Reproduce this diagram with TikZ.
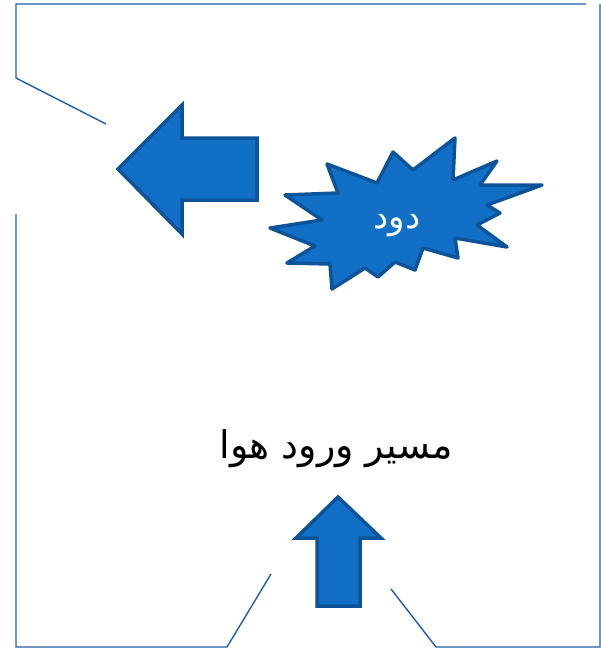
\documentclass[tikz,border=0pt]{standalone}
\usepackage{fontspec}
\newfontfamily\arabicfont[Script=Arabic]{DejaVu Sans}
\TeXXeTstate=1
\usetikzlibrary{positioning}

\definecolor{shapeblue}{HTML}{1170C6}
\definecolor{edgeblue}{HTML}{0C539A}
\definecolor{lineblue}{HTML}{1F5FA8}

\begin{document}
\begin{tikzpicture}[
    x=1pt, y=-1pt,
    frameline/.style={draw=lineblue, line width=1.4pt},
    bigarrow/.style={draw=edgeblue, fill=shapeblue, line width=3.5pt, line join=miter},
    burst/.style={draw=edgeblue, fill=shapeblue, line width=3.5pt, line join=round},
    airtext/.style={font=\arabicfont\fontsize{38}{44}\selectfont, text=black},
    smoketext/.style={font=\arabicfont\fontsize{34}{40}\selectfont, text=white}
]
\useasboundingbox[fill=white] (0,0) rectangle (601,649);

% --- Frame ---
\draw[frameline] (106,124) -- (16,78) -- (16,4) -- (586,4);
\draw[frameline] (16,214) -- (16,647) -- (227,647) -- (271,574);
\draw[frameline] (391,589) -- (436,647) -- (600,647) -- (600,4);

% --- Smoke outlet arrow ---
\draw[bigarrow] (118,169) -- (182,105) -- (182,138) -- (257,138)
    -- (257,200) -- (182,200) -- (182,234) -- cycle;

% --- Smoke burst ---
\draw[burst] (332,289) -- (365,268) -- (378,277) -- (395,262) -- (415,270)
    -- (423,248) -- (458,258) -- (455,238) -- (507,247) -- (477,225)
    -- (500,213) -- (487,205) -- (542,185) -- (480,185) -- (497,161)
    -- (453,180) -- (455,138) -- (413,170) -- (393,152) -- (377,183)
    -- (327,164) -- (338,193) -- (285,195) -- (322,220) -- (270,228)
    -- (315,246) -- (287,263) -- (330,264) -- cycle;
\node[smoketext] (smoke) at (397,226) {\beginR دود\endR};

% --- Air inlet ---
\node[airtext] (air) at (336,449) {\beginR مسیر ورود هوا\endR};
\draw[bigarrow] (338,497) -- (381,538) -- (360,538) -- (360,606)
    -- (317,606) -- (317,538) -- (296,538) -- cycle;

\end{tikzpicture}
\end{document}
